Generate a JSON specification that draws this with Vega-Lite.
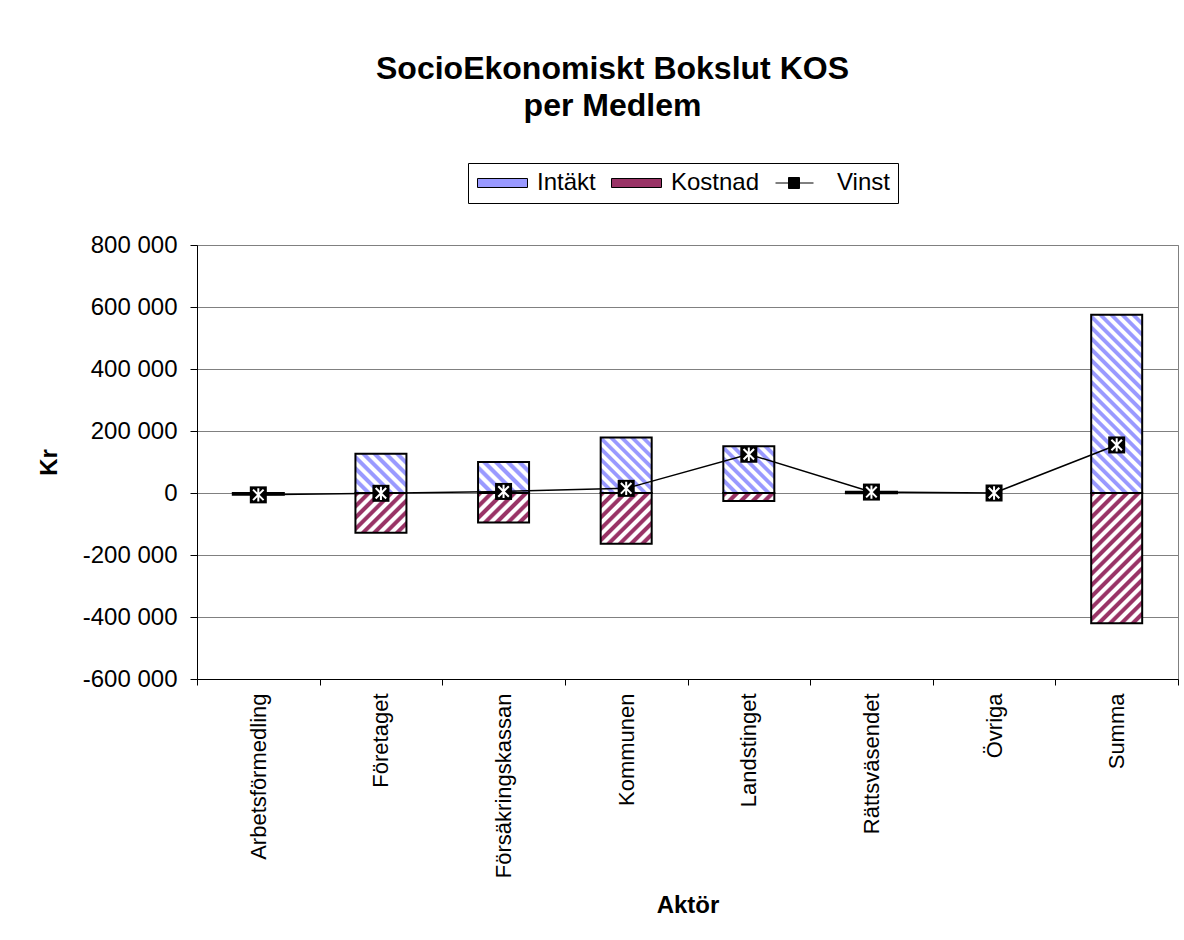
{
  "$schema": "https://vega.github.io/schema/vega-lite/v6.json",
  "width": 981,
  "height": 434,
  "autosize": {"type": "none"},
  "padding": {"left": 197, "top": 245, "right": 6, "bottom": 261},
  "background": "white",
  "config": {
    "font": "Liberation Sans",
    "view": {"stroke": "#808080", "strokeWidth": 1},
    "axis": {"labelColor": "black", "titleColor": "black", "domainColor": "black", "tickColor": "black", "domainWidth": 1, "tickWidth": 1, "gridColor": "#808080", "gridWidth": 1, "labelFont": "Liberation Sans", "titleFont": "Liberation Sans"},
    "locale": {"number": {"decimal": ",", "thousands": " ", "grouping": [3], "currency": ["", " kr"], "minus": "-"}}
  },
  "title": {
    "text": ["SocioEkonomiskt Bokslut KOS", "per Medlem"],
    "font": "Liberation Sans",
    "fontSize": 32,
    "fontWeight": "bold",
    "color": "black",
    "anchor": "middle",
    "dx": -75,
    "lineHeight": 37,
    "offset": 40
  },
  "data": {
    "values": [
      {"Aktör": "Arbetsförmedling", "Serie": "Intäkt", "Kr": 0},
      {"Aktör": "Arbetsförmedling", "Serie": "Kostnad", "Kr": -6000},
      {"Aktör": "Arbetsförmedling", "Serie": "Vinst", "Kr": -6000},
      {"Aktör": "Företaget", "Serie": "Intäkt", "Kr": 127000},
      {"Aktör": "Företaget", "Serie": "Kostnad", "Kr": -128000},
      {"Aktör": "Företaget", "Serie": "Vinst", "Kr": -1000},
      {"Aktör": "Försäkringskassan", "Serie": "Intäkt", "Kr": 100000},
      {"Aktör": "Försäkringskassan", "Serie": "Kostnad", "Kr": -95000},
      {"Aktör": "Försäkringskassan", "Serie": "Vinst", "Kr": 5000},
      {"Aktör": "Kommunen", "Serie": "Intäkt", "Kr": 179000},
      {"Aktör": "Kommunen", "Serie": "Kostnad", "Kr": -164000},
      {"Aktör": "Kommunen", "Serie": "Vinst", "Kr": 15000},
      {"Aktör": "Landstinget", "Serie": "Intäkt", "Kr": 151000},
      {"Aktör": "Landstinget", "Serie": "Kostnad", "Kr": -26000},
      {"Aktör": "Landstinget", "Serie": "Vinst", "Kr": 125000},
      {"Aktör": "Rättsväsendet", "Serie": "Intäkt", "Kr": 4000},
      {"Aktör": "Rättsväsendet", "Serie": "Kostnad", "Kr": -1000},
      {"Aktör": "Rättsväsendet", "Serie": "Vinst", "Kr": 3000},
      {"Aktör": "Övriga", "Serie": "Intäkt", "Kr": 0},
      {"Aktör": "Övriga", "Serie": "Kostnad", "Kr": 0},
      {"Aktör": "Övriga", "Serie": "Vinst", "Kr": 0},
      {"Aktör": "Summa", "Serie": "Intäkt", "Kr": 575000},
      {"Aktör": "Summa", "Serie": "Kostnad", "Kr": -420000},
      {"Aktör": "Summa", "Serie": "Vinst", "Kr": 155000}
    ]
  },
  "encoding": {
    "x": {
      "field": "Aktör",
      "type": "nominal",
      "sort": ["Arbetsförmedling", "Företaget", "Försäkringskassan", "Kommunen", "Landstinget", "Rättsväsendet", "Övriga", "Summa"],
      "scale": {"paddingInner": 0, "paddingOuter": 0},
      "axis": {"title": "Aktör", "labelAngle": -90, "labelFontSize": 22, "labelLimit": 400, "tickBand": "extent", "tickSize": 6, "labelPadding": 8, "grid": false, "titleFontSize": 24, "titleFontWeight": "bold", "titlePadding": 16}
    },
    "y": {
      "field": "Kr",
      "type": "quantitative",
      "stack": null,
      "scale": {"domain": [-600000, 800000], "nice": false, "zero": false},
      "axis": {"title": "Kr", "values": [-600000, -400000, -200000, 0, 200000, 400000, 600000, 800000], "format": ",.0f", "labelFontSize": 24, "tickSize": 7, "labelPadding": 13, "grid": true, "titleFontSize": 24, "titleFontWeight": "bold", "titlePadding": 21}
    }
  },
  "layer": [
    {
      "transform": [{"filter": "datum.Serie !== 'Vinst' && datum.Kr !== 0"}],
      "mark": {"type": "bar", "stroke": "black", "strokeWidth": 2, "opacity": 1, "width": {"band": 0.416}},
      "encoding": {
        "fill": {
          "field": "Serie",
          "type": "nominal",
          "scale": {"domain": ["Intäkt", "Kostnad", "Vinst"], "range": ["#99f", "#936", "black"]},
          "legend": {
            "title": null,
            "orient": "none",
            "legendX": 271,
            "legendY": -82,
            "direction": "horizontal",
            "strokeColor": "black",
            "fillColor": "white",
            "padding": 8,
            "labelFontSize": 24,
            "labelColor": "black",
            "labelFont": "Liberation Sans",
            "symbolSize": 100,
            "symbolOffset": 14.5,
            "labelOffset": 22.5,
            "columnPadding": 13,
            "encoding": {
              "symbols": {
                "shape": {"condition": {"test": "datum.value === 'Vinst'", "value": "M-5.4,0H2.2M-2.8,-1.1H-0.6V1.1H-2.8Z"}, "value": "M-5,-0.9H5V0.9H-5Z"},
                "fill": {"condition": [
                    {"test": "datum.value === 'Intäkt'", "value": {"gradient": "linear", "x1": 0, "y1": 1, "x2": 1.143, "y2": 0.7943, "stops": [{"offset":0,"color":"#99f"},{"offset":0.07,"color":"#99f"},{"offset":0.1,"color":"#fff"},{"offset":0.17,"color":"#fff"},{"offset":0.2,"color":"#99f"},{"offset":0.27,"color":"#99f"},{"offset":0.3,"color":"#fff"},{"offset":0.37,"color":"#fff"},{"offset":0.4,"color":"#99f"},{"offset":0.47,"color":"#99f"},{"offset":0.5,"color":"#fff"},{"offset":0.57,"color":"#fff"},{"offset":0.6,"color":"#99f"},{"offset":0.67,"color":"#99f"},{"offset":0.7,"color":"#fff"},{"offset":0.77,"color":"#fff"},{"offset":0.8,"color":"#99f"},{"offset":0.87,"color":"#99f"},{"offset":0.9,"color":"#fff"},{"offset":0.97,"color":"#fff"},{"offset":1,"color":"#99f"}]}},
                    {"test": "datum.value === 'Kostnad'", "value": {"gradient": "linear", "x1": 0, "y1": 0, "x2": 1.143, "y2": 0.2057, "stops": [{"offset":0,"color":"#936"},{"offset":0.07,"color":"#936"},{"offset":0.1,"color":"#fff"},{"offset":0.17,"color":"#fff"},{"offset":0.2,"color":"#936"},{"offset":0.27,"color":"#936"},{"offset":0.3,"color":"#fff"},{"offset":0.37,"color":"#fff"},{"offset":0.4,"color":"#936"},{"offset":0.47,"color":"#936"},{"offset":0.5,"color":"#fff"},{"offset":0.57,"color":"#fff"},{"offset":0.6,"color":"#936"},{"offset":0.67,"color":"#936"},{"offset":0.7,"color":"#fff"},{"offset":0.77,"color":"#fff"},{"offset":0.8,"color":"#936"},{"offset":0.87,"color":"#936"},{"offset":0.9,"color":"#fff"},{"offset":0.97,"color":"#fff"},{"offset":1,"color":"#936"}]}}
                  ], "value": "black"},
                "stroke": {"value": "black"},
                "strokeWidth": {"value": 1},
                "opacity": {"value": 1},
                "size": {"value": 100}
              }
            }
          },
          "condition": [
            {"test": "datum['Aktör'] === 'Företaget' && datum.Serie === 'Intäkt'", "value": {"gradient": "linear", "x1": 0, "y1": 1, "x2": 1.1103, "y2": 0.1429, "stops": [{"offset":0,"color":"#99f"},{"offset":0.0438,"color":"#99f"},{"offset":0.0625,"color":"#fff"},{"offset":0.1063,"color":"#fff"},{"offset":0.125,"color":"#99f"},{"offset":0.1688,"color":"#99f"},{"offset":0.1875,"color":"#fff"},{"offset":0.2313,"color":"#fff"},{"offset":0.25,"color":"#99f"},{"offset":0.2938,"color":"#99f"},{"offset":0.3125,"color":"#fff"},{"offset":0.3563,"color":"#fff"},{"offset":0.375,"color":"#99f"},{"offset":0.4188,"color":"#99f"},{"offset":0.4375,"color":"#fff"},{"offset":0.4813,"color":"#fff"},{"offset":0.5,"color":"#99f"},{"offset":0.5438,"color":"#99f"},{"offset":0.5625,"color":"#fff"},{"offset":0.6063,"color":"#fff"},{"offset":0.625,"color":"#99f"},{"offset":0.6688,"color":"#99f"},{"offset":0.6875,"color":"#fff"},{"offset":0.7313,"color":"#fff"},{"offset":0.75,"color":"#99f"},{"offset":0.7938,"color":"#99f"},{"offset":0.8125,"color":"#fff"},{"offset":0.8563,"color":"#fff"},{"offset":0.875,"color":"#99f"},{"offset":0.9188,"color":"#99f"},{"offset":0.9375,"color":"#fff"},{"offset":0.9813,"color":"#fff"},{"offset":1,"color":"#99f"}]}},
            {"test": "datum['Aktör'] === 'Företaget' && datum.Serie === 'Kostnad'", "value": {"gradient": "linear", "x1": 0, "y1": 0, "x2": 1.1076, "y2": 0.8617, "stops": [{"offset":0,"color":"#936"},{"offset":0.0438,"color":"#936"},{"offset":0.0625,"color":"#fff"},{"offset":0.1063,"color":"#fff"},{"offset":0.125,"color":"#936"},{"offset":0.1688,"color":"#936"},{"offset":0.1875,"color":"#fff"},{"offset":0.2313,"color":"#fff"},{"offset":0.25,"color":"#936"},{"offset":0.2938,"color":"#936"},{"offset":0.3125,"color":"#fff"},{"offset":0.3563,"color":"#fff"},{"offset":0.375,"color":"#936"},{"offset":0.4188,"color":"#936"},{"offset":0.4375,"color":"#fff"},{"offset":0.4813,"color":"#fff"},{"offset":0.5,"color":"#936"},{"offset":0.5438,"color":"#936"},{"offset":0.5625,"color":"#fff"},{"offset":0.6063,"color":"#fff"},{"offset":0.625,"color":"#936"},{"offset":0.6688,"color":"#936"},{"offset":0.6875,"color":"#fff"},{"offset":0.7313,"color":"#fff"},{"offset":0.75,"color":"#936"},{"offset":0.7938,"color":"#936"},{"offset":0.8125,"color":"#fff"},{"offset":0.8563,"color":"#fff"},{"offset":0.875,"color":"#936"},{"offset":0.9188,"color":"#936"},{"offset":0.9375,"color":"#fff"},{"offset":0.9813,"color":"#fff"},{"offset":1,"color":"#936"}]}},
            {"test": "datum['Aktör'] === 'Försäkringskassan' && datum.Serie === 'Intäkt'", "value": {"gradient": "linear", "x1": 0, "y1": 1, "x2": 1.1741, "y2": 0.2864, "stops": [{"offset":0,"color":"#99f"},{"offset":0.05,"color":"#99f"},{"offset":0.0714,"color":"#fff"},{"offset":0.1214,"color":"#fff"},{"offset":0.1429,"color":"#99f"},{"offset":0.1929,"color":"#99f"},{"offset":0.2143,"color":"#fff"},{"offset":0.2643,"color":"#fff"},{"offset":0.2857,"color":"#99f"},{"offset":0.3357,"color":"#99f"},{"offset":0.3571,"color":"#fff"},{"offset":0.4071,"color":"#fff"},{"offset":0.4286,"color":"#99f"},{"offset":0.4786,"color":"#99f"},{"offset":0.5,"color":"#fff"},{"offset":0.55,"color":"#fff"},{"offset":0.5714,"color":"#99f"},{"offset":0.6214,"color":"#99f"},{"offset":0.6429,"color":"#fff"},{"offset":0.6929,"color":"#fff"},{"offset":0.7143,"color":"#99f"},{"offset":0.7643,"color":"#99f"},{"offset":0.7857,"color":"#fff"},{"offset":0.8357,"color":"#fff"},{"offset":0.8571,"color":"#99f"},{"offset":0.9071,"color":"#99f"},{"offset":0.9286,"color":"#fff"},{"offset":0.9786,"color":"#fff"},{"offset":1,"color":"#99f"}]}},
            {"test": "datum['Aktör'] === 'Försäkringskassan' && datum.Serie === 'Kostnad'", "value": {"gradient": "linear", "x1": 0, "y1": 0, "x2": 1.183, "y2": 0.6831, "stops": [{"offset":0,"color":"#936"},{"offset":0.05,"color":"#936"},{"offset":0.0714,"color":"#fff"},{"offset":0.1214,"color":"#fff"},{"offset":0.1429,"color":"#936"},{"offset":0.1929,"color":"#936"},{"offset":0.2143,"color":"#fff"},{"offset":0.2643,"color":"#fff"},{"offset":0.2857,"color":"#936"},{"offset":0.3357,"color":"#936"},{"offset":0.3571,"color":"#fff"},{"offset":0.4071,"color":"#fff"},{"offset":0.4286,"color":"#936"},{"offset":0.4786,"color":"#936"},{"offset":0.5,"color":"#fff"},{"offset":0.55,"color":"#fff"},{"offset":0.5714,"color":"#936"},{"offset":0.6214,"color":"#936"},{"offset":0.6429,"color":"#fff"},{"offset":0.6929,"color":"#fff"},{"offset":0.7143,"color":"#936"},{"offset":0.7643,"color":"#936"},{"offset":0.7857,"color":"#fff"},{"offset":0.8357,"color":"#fff"},{"offset":0.8571,"color":"#936"},{"offset":0.9071,"color":"#936"},{"offset":0.9286,"color":"#fff"},{"offset":0.9786,"color":"#fff"},{"offset":1,"color":"#936"}]}},
            {"test": "datum['Aktör'] === 'Kommunen' && datum.Serie === 'Intäkt'", "value": {"gradient": "linear", "x1": 0, "y1": 1, "x2": 0.9561, "y2": -0.0403, "stops": [{"offset":0,"color":"#99f"},{"offset":0.035,"color":"#99f"},{"offset":0.05,"color":"#fff"},{"offset":0.085,"color":"#fff"},{"offset":0.1,"color":"#99f"},{"offset":0.135,"color":"#99f"},{"offset":0.15,"color":"#fff"},{"offset":0.185,"color":"#fff"},{"offset":0.2,"color":"#99f"},{"offset":0.235,"color":"#99f"},{"offset":0.25,"color":"#fff"},{"offset":0.285,"color":"#fff"},{"offset":0.3,"color":"#99f"},{"offset":0.335,"color":"#99f"},{"offset":0.35,"color":"#fff"},{"offset":0.385,"color":"#fff"},{"offset":0.4,"color":"#99f"},{"offset":0.435,"color":"#99f"},{"offset":0.45,"color":"#fff"},{"offset":0.485,"color":"#fff"},{"offset":0.5,"color":"#99f"},{"offset":0.535,"color":"#99f"},{"offset":0.55,"color":"#fff"},{"offset":0.585,"color":"#fff"},{"offset":0.6,"color":"#99f"},{"offset":0.635,"color":"#99f"},{"offset":0.65,"color":"#fff"},{"offset":0.685,"color":"#fff"},{"offset":0.7,"color":"#99f"},{"offset":0.735,"color":"#99f"},{"offset":0.75,"color":"#fff"},{"offset":0.785,"color":"#fff"},{"offset":0.8,"color":"#99f"},{"offset":0.835,"color":"#99f"},{"offset":0.85,"color":"#fff"},{"offset":0.885,"color":"#fff"},{"offset":0.9,"color":"#99f"},{"offset":0.935,"color":"#99f"},{"offset":0.95,"color":"#fff"},{"offset":0.985,"color":"#fff"},{"offset":1,"color":"#99f"}]}},
            {"test": "datum['Aktör'] === 'Kommunen' && datum.Serie === 'Kostnad'", "value": {"gradient": "linear", "x1": 0, "y1": 0, "x2": 1.0016, "y2": 0.9984, "stops": [{"offset":0,"color":"#936"},{"offset":0.0389,"color":"#936"},{"offset":0.0556,"color":"#fff"},{"offset":0.0944,"color":"#fff"},{"offset":0.1111,"color":"#936"},{"offset":0.15,"color":"#936"},{"offset":0.1667,"color":"#fff"},{"offset":0.2056,"color":"#fff"},{"offset":0.2222,"color":"#936"},{"offset":0.2611,"color":"#936"},{"offset":0.2778,"color":"#fff"},{"offset":0.3167,"color":"#fff"},{"offset":0.3333,"color":"#936"},{"offset":0.3722,"color":"#936"},{"offset":0.3889,"color":"#fff"},{"offset":0.4278,"color":"#fff"},{"offset":0.4444,"color":"#936"},{"offset":0.4833,"color":"#936"},{"offset":0.5,"color":"#fff"},{"offset":0.5389,"color":"#fff"},{"offset":0.5556,"color":"#936"},{"offset":0.5944,"color":"#936"},{"offset":0.6111,"color":"#fff"},{"offset":0.65,"color":"#fff"},{"offset":0.6667,"color":"#936"},{"offset":0.7056,"color":"#936"},{"offset":0.7222,"color":"#fff"},{"offset":0.7611,"color":"#fff"},{"offset":0.7778,"color":"#936"},{"offset":0.8167,"color":"#936"},{"offset":0.8333,"color":"#fff"},{"offset":0.8722,"color":"#fff"},{"offset":0.8889,"color":"#936"},{"offset":0.9278,"color":"#936"},{"offset":0.9444,"color":"#fff"},{"offset":0.9833,"color":"#fff"},{"offset":1,"color":"#936"}]}},
            {"test": "datum['Aktör'] === 'Landstinget' && datum.Serie === 'Intäkt'", "value": {"gradient": "linear", "x1": 0, "y1": 1, "x2": 1.0409, "y2": 0.0446, "stops": [{"offset":0,"color":"#99f"},{"offset":0.0389,"color":"#99f"},{"offset":0.0556,"color":"#fff"},{"offset":0.0944,"color":"#fff"},{"offset":0.1111,"color":"#99f"},{"offset":0.15,"color":"#99f"},{"offset":0.1667,"color":"#fff"},{"offset":0.2056,"color":"#fff"},{"offset":0.2222,"color":"#99f"},{"offset":0.2611,"color":"#99f"},{"offset":0.2778,"color":"#fff"},{"offset":0.3167,"color":"#fff"},{"offset":0.3333,"color":"#99f"},{"offset":0.3722,"color":"#99f"},{"offset":0.3889,"color":"#fff"},{"offset":0.4278,"color":"#fff"},{"offset":0.4444,"color":"#99f"},{"offset":0.4833,"color":"#99f"},{"offset":0.5,"color":"#fff"},{"offset":0.5389,"color":"#fff"},{"offset":0.5556,"color":"#99f"},{"offset":0.5944,"color":"#99f"},{"offset":0.6111,"color":"#fff"},{"offset":0.65,"color":"#fff"},{"offset":0.6667,"color":"#99f"},{"offset":0.7056,"color":"#99f"},{"offset":0.7222,"color":"#fff"},{"offset":0.7611,"color":"#fff"},{"offset":0.7778,"color":"#99f"},{"offset":0.8167,"color":"#99f"},{"offset":0.8333,"color":"#fff"},{"offset":0.8722,"color":"#fff"},{"offset":0.8889,"color":"#99f"},{"offset":0.9278,"color":"#99f"},{"offset":0.9444,"color":"#fff"},{"offset":0.9833,"color":"#fff"},{"offset":1,"color":"#99f"}]}},
            {"test": "datum['Aktör'] === 'Landstinget' && datum.Serie === 'Kostnad'", "value": {"gradient": "linear", "x1": 0, "y1": 0, "x2": 1.1298, "y2": 0.1786, "stops": [{"offset":0,"color":"#936"},{"offset":0.07,"color":"#936"},{"offset":0.1,"color":"#fff"},{"offset":0.17,"color":"#fff"},{"offset":0.2,"color":"#936"},{"offset":0.27,"color":"#936"},{"offset":0.3,"color":"#fff"},{"offset":0.37,"color":"#fff"},{"offset":0.4,"color":"#936"},{"offset":0.47,"color":"#936"},{"offset":0.5,"color":"#fff"},{"offset":0.57,"color":"#fff"},{"offset":0.6,"color":"#936"},{"offset":0.67,"color":"#936"},{"offset":0.7,"color":"#fff"},{"offset":0.77,"color":"#fff"},{"offset":0.8,"color":"#936"},{"offset":0.87,"color":"#936"},{"offset":0.9,"color":"#fff"},{"offset":0.97,"color":"#fff"},{"offset":1,"color":"#936"}]}},
            {"test": "datum['Aktör'] === 'Summa' && datum.Serie === 'Intäkt'", "value": {"gradient": "linear", "x1": 0, "y1": 1, "x2": 0.3401, "y2": -0.1888, "stops": [{"offset":0,"color":"#99f"},{"offset":0.0167,"color":"#99f"},{"offset":0.0238,"color":"#fff"},{"offset":0.0405,"color":"#fff"},{"offset":0.0476,"color":"#99f"},{"offset":0.0643,"color":"#99f"},{"offset":0.0714,"color":"#fff"},{"offset":0.0881,"color":"#fff"},{"offset":0.0952,"color":"#99f"},{"offset":0.1119,"color":"#99f"},{"offset":0.119,"color":"#fff"},{"offset":0.1357,"color":"#fff"},{"offset":0.1429,"color":"#99f"},{"offset":0.1595,"color":"#99f"},{"offset":0.1667,"color":"#fff"},{"offset":0.1833,"color":"#fff"},{"offset":0.1905,"color":"#99f"},{"offset":0.2071,"color":"#99f"},{"offset":0.2143,"color":"#fff"},{"offset":0.231,"color":"#fff"},{"offset":0.2381,"color":"#99f"},{"offset":0.2548,"color":"#99f"},{"offset":0.2619,"color":"#fff"},{"offset":0.2786,"color":"#fff"},{"offset":0.2857,"color":"#99f"},{"offset":0.3024,"color":"#99f"},{"offset":0.3095,"color":"#fff"},{"offset":0.3262,"color":"#fff"},{"offset":0.3333,"color":"#99f"},{"offset":0.35,"color":"#99f"},{"offset":0.3571,"color":"#fff"},{"offset":0.3738,"color":"#fff"},{"offset":0.381,"color":"#99f"},{"offset":0.3976,"color":"#99f"},{"offset":0.4048,"color":"#fff"},{"offset":0.4214,"color":"#fff"},{"offset":0.4286,"color":"#99f"},{"offset":0.4452,"color":"#99f"},{"offset":0.4524,"color":"#fff"},{"offset":0.469,"color":"#fff"},{"offset":0.4762,"color":"#99f"},{"offset":0.4929,"color":"#99f"},{"offset":0.5,"color":"#fff"},{"offset":0.5167,"color":"#fff"},{"offset":0.5238,"color":"#99f"},{"offset":0.5405,"color":"#99f"},{"offset":0.5476,"color":"#fff"},{"offset":0.5643,"color":"#fff"},{"offset":0.5714,"color":"#99f"},{"offset":0.5881,"color":"#99f"},{"offset":0.5952,"color":"#fff"},{"offset":0.6119,"color":"#fff"},{"offset":0.619,"color":"#99f"},{"offset":0.6357,"color":"#99f"},{"offset":0.6429,"color":"#fff"},{"offset":0.6595,"color":"#fff"},{"offset":0.6667,"color":"#99f"},{"offset":0.6833,"color":"#99f"},{"offset":0.6905,"color":"#fff"},{"offset":0.7071,"color":"#fff"},{"offset":0.7143,"color":"#99f"},{"offset":0.731,"color":"#99f"},{"offset":0.7381,"color":"#fff"},{"offset":0.7548,"color":"#fff"},{"offset":0.7619,"color":"#99f"},{"offset":0.7786,"color":"#99f"},{"offset":0.7857,"color":"#fff"},{"offset":0.8024,"color":"#fff"},{"offset":0.8095,"color":"#99f"},{"offset":0.8262,"color":"#99f"},{"offset":0.8333,"color":"#fff"},{"offset":0.85,"color":"#fff"},{"offset":0.8571,"color":"#99f"},{"offset":0.8738,"color":"#99f"},{"offset":0.881,"color":"#fff"},{"offset":0.8976,"color":"#fff"},{"offset":0.9048,"color":"#99f"},{"offset":0.9214,"color":"#99f"},{"offset":0.9286,"color":"#fff"},{"offset":0.9452,"color":"#fff"},{"offset":0.9524,"color":"#99f"},{"offset":0.969,"color":"#99f"},{"offset":0.9762,"color":"#fff"},{"offset":0.9929,"color":"#fff"},{"offset":1,"color":"#99f"}]}},
            {"test": "datum['Aktör'] === 'Summa' && datum.Serie === 'Kostnad'", "value": {"gradient": "linear", "x1": 0, "y1": 0, "x2": 0.4726, "y2": 1.2066, "stops": [{"offset":0,"color":"#936"},{"offset":0.0219,"color":"#936"},{"offset":0.0313,"color":"#fff"},{"offset":0.0531,"color":"#fff"},{"offset":0.0625,"color":"#936"},{"offset":0.0844,"color":"#936"},{"offset":0.0938,"color":"#fff"},{"offset":0.1156,"color":"#fff"},{"offset":0.125,"color":"#936"},{"offset":0.1469,"color":"#936"},{"offset":0.1563,"color":"#fff"},{"offset":0.1781,"color":"#fff"},{"offset":0.1875,"color":"#936"},{"offset":0.2094,"color":"#936"},{"offset":0.2188,"color":"#fff"},{"offset":0.2406,"color":"#fff"},{"offset":0.25,"color":"#936"},{"offset":0.2719,"color":"#936"},{"offset":0.2813,"color":"#fff"},{"offset":0.3031,"color":"#fff"},{"offset":0.3125,"color":"#936"},{"offset":0.3344,"color":"#936"},{"offset":0.3438,"color":"#fff"},{"offset":0.3656,"color":"#fff"},{"offset":0.375,"color":"#936"},{"offset":0.3969,"color":"#936"},{"offset":0.4063,"color":"#fff"},{"offset":0.4281,"color":"#fff"},{"offset":0.4375,"color":"#936"},{"offset":0.4594,"color":"#936"},{"offset":0.4688,"color":"#fff"},{"offset":0.4906,"color":"#fff"},{"offset":0.5,"color":"#936"},{"offset":0.5219,"color":"#936"},{"offset":0.5313,"color":"#fff"},{"offset":0.5531,"color":"#fff"},{"offset":0.5625,"color":"#936"},{"offset":0.5844,"color":"#936"},{"offset":0.5938,"color":"#fff"},{"offset":0.6156,"color":"#fff"},{"offset":0.625,"color":"#936"},{"offset":0.6469,"color":"#936"},{"offset":0.6563,"color":"#fff"},{"offset":0.6781,"color":"#fff"},{"offset":0.6875,"color":"#936"},{"offset":0.7094,"color":"#936"},{"offset":0.7188,"color":"#fff"},{"offset":0.7406,"color":"#fff"},{"offset":0.75,"color":"#936"},{"offset":0.7719,"color":"#936"},{"offset":0.7813,"color":"#fff"},{"offset":0.8031,"color":"#fff"},{"offset":0.8125,"color":"#936"},{"offset":0.8344,"color":"#936"},{"offset":0.8438,"color":"#fff"},{"offset":0.8656,"color":"#fff"},{"offset":0.875,"color":"#936"},{"offset":0.8969,"color":"#936"},{"offset":0.9063,"color":"#fff"},{"offset":0.9281,"color":"#fff"},{"offset":0.9375,"color":"#936"},{"offset":0.9594,"color":"#936"},{"offset":0.9688,"color":"#fff"},{"offset":0.9906,"color":"#fff"},{"offset":1,"color":"#936"}]}}
          ]
        }
      }
    },
    {
      "transform": [{"filter": "datum.Serie === 'Vinst'"}],
      "mark": {"type": "line", "color": "black", "strokeWidth": 1.5},
      "encoding": {}
    },
    {
      "transform": [{"filter": "datum.Serie === 'Vinst'"}],
      "mark": {"type": "point", "shape": "square", "filled": true, "color": "black", "size": 289, "opacity": 1},
      "encoding": {}
    },
    {
      "transform": [{"filter": "datum.Serie === 'Vinst'"}],
      "mark": {"type": "point", "shape": "M-0.62,-0.62L0.62,0.62M-0.62,0.62L0.62,-0.62M0,-0.78V0.78", "filled": false, "stroke": "white", "strokeWidth": 2, "size": 289, "opacity": 1},
      "encoding": {}
    }
  ]
}
